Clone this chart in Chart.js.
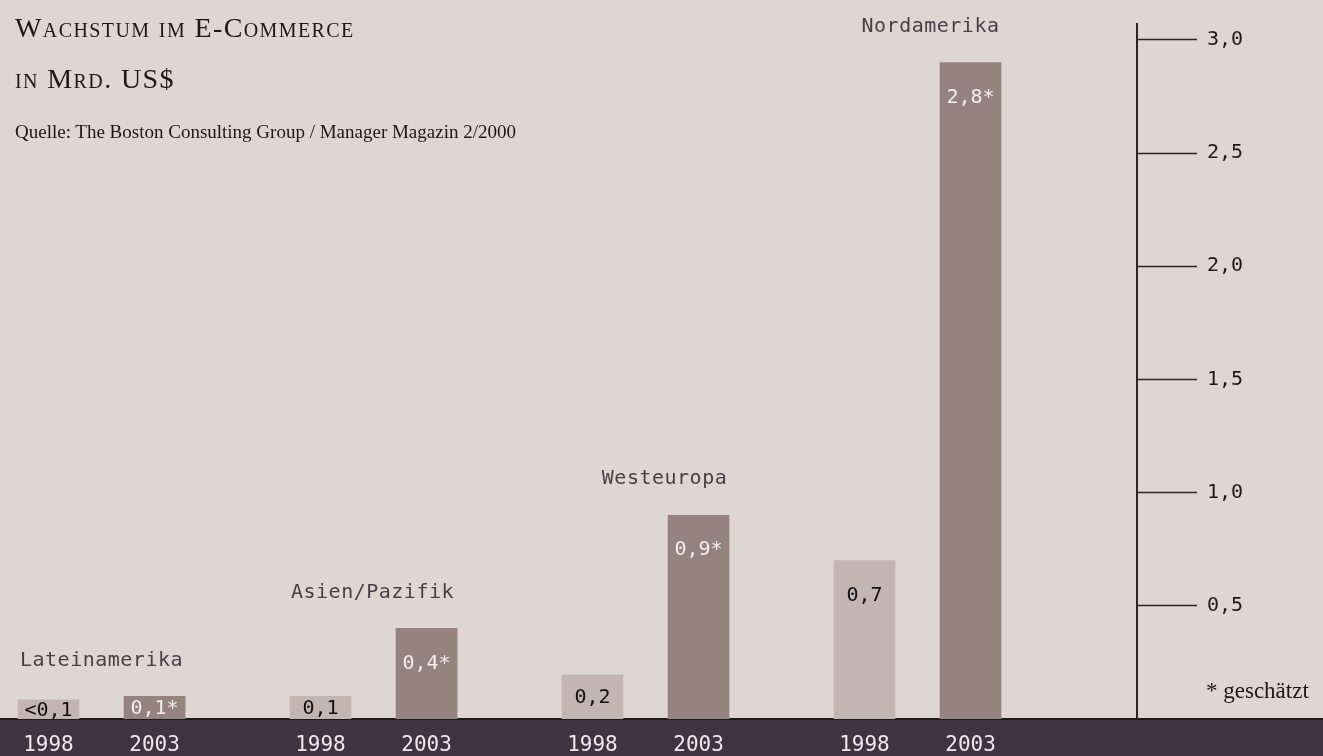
<!DOCTYPE html>
<html>
<head>
<meta charset="utf-8">
<title>Wachstum im E-Commerce</title>
<script src="https://cdn.jsdelivr.net/npm/chart.js@4/dist/chart.umd.min.js"></script>
<style>
  html, body { margin: 0; padding: 0; background: #ded6d2; }
  #wrap { position: relative; width: 1323px; height: 756px; overflow: hidden; }
  #chart { position: absolute; left: 0; top: 0; }
  .txt { position: absolute; font-family: "Liberation Serif", serif; color: #1c1819; white-space: nowrap; line-height: 1; }
  #title1 { left: 15px; top: 14px; font-size: 28px; font-variant: small-caps; letter-spacing: 1.4px; }
  #title2 { left: 15px; top: 65px; font-size: 28px; font-variant: small-caps; letter-spacing: 1.4px; }
  #source { left: 15px; top: 122px; font-size: 19px; }
  #note { left: 1206px; top: 679px; font-size: 23px; }
</style>
</head>
<body>
<div id="wrap">
  <canvas id="chart" width="1323" height="756"></canvas>
  <div class="txt" id="title1">Wachstum im E-Commerce</div>
  <div class="txt" id="title2">in Mrd. US$</div>
  <div class="txt" id="source">Quelle: The Boston Consulting Group / Manager Magazin 2/2000</div>
  <div class="txt" id="note">* geschätzt</div>
</div>
<script>
// data
const regions = ['Lateinamerika', 'Asien/Pazifik', 'Westeuropa', 'Nordamerika'];
const years = ['1998', '2003'];
const values1998 = [0.085, 0.1, 0.195, 0.7];
const values2003 = [0.1, 0.4, 0.9, 2.9];
const labels1998 = ['<0,1', '0,1', '0,2', '0,7'];
const labels2003 = ['0,1*', '0,4*', '0,9*', '2,8*'];
const yTicks = [0.5, 1.0, 1.5, 2.0, 2.5, 3.0];

const monoFont = '"DejaVu Sans Mono", monospace';
const barOffset = 0.195;            // half distance between the two bars of a region
const regionNudge = [0, -1, 19, 13]; // region names are not quite centred in the original

function points(values, side) {
  return values.map((v, i) => ({ x: i + side * barOffset, y: v }));
}

// background, bottom band, value labels, years and region names
const decor = {
  id: 'decor',
  beforeDraw(chart) {
    const { ctx, chartArea, width, height } = chart;
    ctx.save();
    ctx.fillStyle = '#ded6d2';
    ctx.fillRect(0, 0, width, height);
    ctx.fillStyle = '#413341';
    ctx.fillRect(0, chartArea.bottom, width, height - chartArea.bottom);
    ctx.fillStyle = '#1e1a1c';
    ctx.fillRect(0, chartArea.bottom - 1, width, 2);
    ctx.restore();
  },
  afterDatasetsDraw(chart) {
    const { ctx, chartArea } = chart;
    const xScale = chart.scales.x;
    const labelSets = [labels1998, labels2003];
    const inkColors = ['#141012', '#f4efec'];
    const tops = regions.map(() => chartArea.bottom);
    ctx.save();
    ctx.textAlign = 'center';
    ctx.textBaseline = 'middle';
    chart.data.datasets.forEach((ds, d) => {
      const meta = chart.getDatasetMeta(d);
      meta.data.forEach((bar, i) => {
        tops[i] = Math.min(tops[i], bar.y);
        const cy = Math.min(bar.y + 34, (bar.y + bar.base) / 2);
        ctx.font = '20px ' + monoFont;
        ctx.fillStyle = inkColors[d];
        ctx.fillText(labelSets[d][i], bar.x, cy + 1);
        ctx.font = '21px ' + monoFont;
        ctx.fillStyle = '#efe9e6';
        ctx.fillText(years[d], bar.x, chartArea.bottom + 27);
      });
    });
    ctx.font = '20px ' + monoFont;
    ctx.letterSpacing = '0.5px';
    ctx.fillStyle = '#4a3f48';
    regions.forEach((name, i) => {
      ctx.fillText(name, xScale.getPixelForValue(i) + regionNudge[i], tops[i] - 36);
    });
    ctx.restore();
  }
};

new Chart(document.getElementById('chart'), {
  type: 'bar',
  data: {
    datasets: [
      { label: years[0], data: points(values1998, -1), backgroundColor: '#c3b5b1' },
      { label: years[1], data: points(values2003, 1), backgroundColor: '#968380' }
    ]
  },
  options: {
    responsive: false,
    animation: false,
    devicePixelRatio: 1,
    grouped: false,
    barPercentage: 1,
    categoryPercentage: 1,
    maxBarThickness: 61,
    layout: { padding: { top: 24, bottom: 37, left: 0, right: 0 } },
    plugins: { legend: { display: false }, tooltip: { enabled: false }, title: { display: false } },
    scales: {
      x: {
        type: 'linear',
        display: false,
        min: -0.3732,
        max: 3.807,
        afterBuildTicks(scale) { scale.ticks = []; }
      },
      y: {
        position: 'right',
        min: 0,
        max: 3.07,
        afterBuildTicks(scale) { scale.ticks = yTicks.map(v => ({ value: v })); },
        afterFit(scale) { scale.width = 186; },
        border: { display: true, color: '#2a2426', width: 2 },
        grid: { drawOnChartArea: false, drawTicks: true, tickLength: 60, tickColor: '#2a2426', tickWidth: 1.3 },
        ticks: {
          padding: 10,
          color: '#1e1a1c',
          font: { family: monoFont, size: 20 },
          callback: v => v.toFixed(1).replace('.', ',')
        }
      }
    }
  },
  plugins: [decor]
});
</script>
</body>
</html>
